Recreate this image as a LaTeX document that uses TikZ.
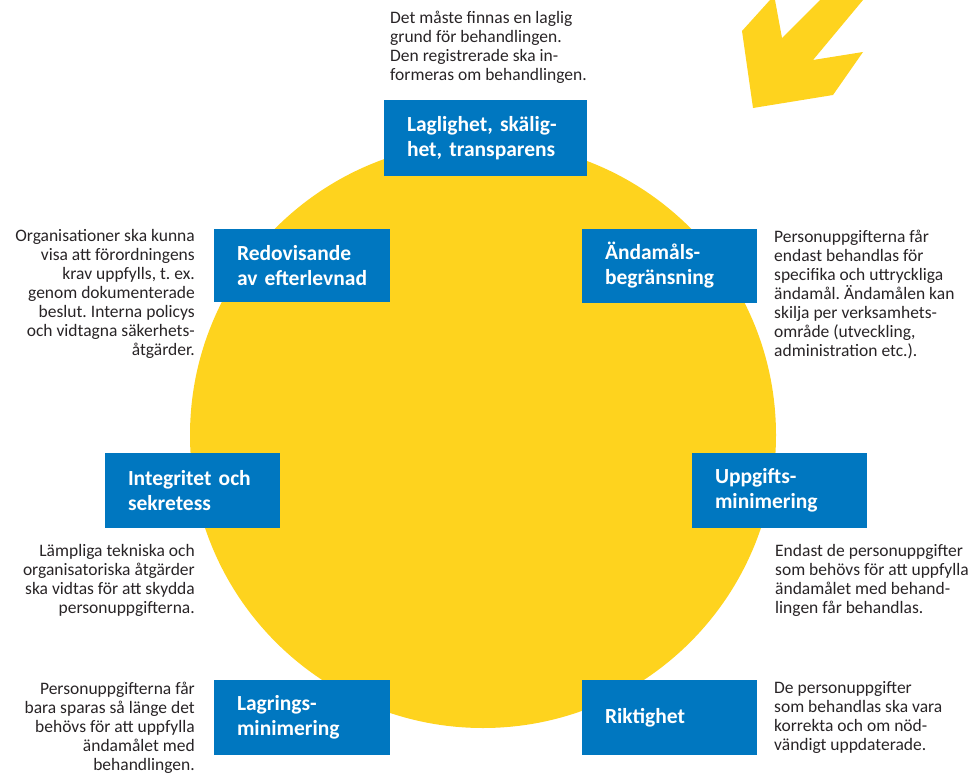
\documentclass[tikz,border=0pt]{standalone}
\usepackage{fontspec}
\setmainfont{Carlito}
\usepackage{xcolor}
\usepackage{tikz}
\frenchspacing

\definecolor{gdprblue}{RGB}{0,119,192}
\definecolor{gdpryellow}{RGB}{254,211,30}
\definecolor{notegray}{RGB}{40,36,38}

\begin{document}
\begin{tikzpicture}[
		x=1pt, y=-1pt,
		principle/.style={rectangle, fill=gdprblue, text=white, align=left, inner xsep=23pt, inner ysep=0pt,
			font=\fontsize{21.5}{25}\selectfont\bfseries},
		noteleft/.style={anchor=base west, align=left, inner sep=0pt, text=notegray,
			font=\fontsize{17.5}{19}\selectfont},
		noteright/.style={anchor=base east, align=right, inner sep=0pt, text=notegray,
			font=\fontsize{17.5}{19}\selectfont}
	]
		\useasboundingbox (0,0) rectangle (975,776);
		
		% Sun and arrow
		\node[circle, fill=gdpryellow, minimum size=586pt, inner sep=0pt] (sun) at (483,435) {};
		\fill[gdpryellow] (753,108) -- (742,31) -- (770,0) -- (775,0) -- (782,38) -- (820,0)
			-- (863,0) -- (813,60) -- (863,52) -- (833,95) -- cycle;
		
		% Principles
		\node[principle, text width=157pt, minimum height=76pt] (lawful) at (485.5,138) {\mbox{Laglighet, skälig-}\\\mbox{het, transparens}};
		\node[principle, text width=129pt, minimum height=74pt] (purpose) at (669.5,265.5) {Ändamåls-\\begränsning};
		\node[principle, text width=129pt, minimum height=75pt] (minimal) at (779.5,490.5) {Uppgifts-\\minimering};
		\node[principle, text width=129pt, minimum height=75pt] (accuracy) at (669.5,717.5) {Riktighet};
		\node[principle, text width=130pt, minimum height=75pt] (storage) at (302,717.5) {Lagrings-\\minimering};
		\node[principle, text width=129pt, minimum height=75pt] (integrity) at (192.5,490.5) {\mbox{Integritet och}\\sekretess};
		\node[principle, text width=130pt, minimum height=73pt] (account) at (302,265.5) {Redovisande\\\mbox{av efterlevnad}};
		
		% Notes (anchored at the baseline of the last line)
		\node[noteleft] (lawfulnote) at (390,81) {Det måste finnas en laglig\\grund för behandlingen.\\Den registrerade ska in-\\formeras om behandlingen.};
		\node[noteleft] (purposenote) at (774,356) {Personuppgifterna får\\endast behandlas för\\specifika och uttryckliga\\ändamål. Ändamålen kan\\skilja per verksamhets-\\område (utveckling,\\administration etc.).};
		\node[noteleft] (minimalnote) at (775,613) {Endast de personuppgifter\\som behövs för att uppfylla\\ändamålet med behand-\\lingen får behandlas.};
		\node[noteleft] (accuracynote) at (774,750) {De personuppgifter\\som behandlas ska vara\\korrekta och om nöd-\\vändigt uppdaterade.};
		\node[noteright] (storagenote) at (195,770) {Personuppgifterna får\\bara sparas så länge det\\behövs för att uppfylla\\ändamålet med\\behandlingen.};
		\node[noteright] (integritynote) at (195,613) {Lämpliga tekniska och\\organisatoriska åtgärder\\ska vidtas för att skydda\\personuppgifterna.};
		\node[noteright] (accountnote) at (195,355) {Organisationer ska kunna\\visa att förordningens\\krav uppfylls, t. ex.\\genom dokumenterade\\beslut. Interna policys\\och vidtagna säkerhets-\\åtgärder.};
	\end{tikzpicture}
\end{document}
